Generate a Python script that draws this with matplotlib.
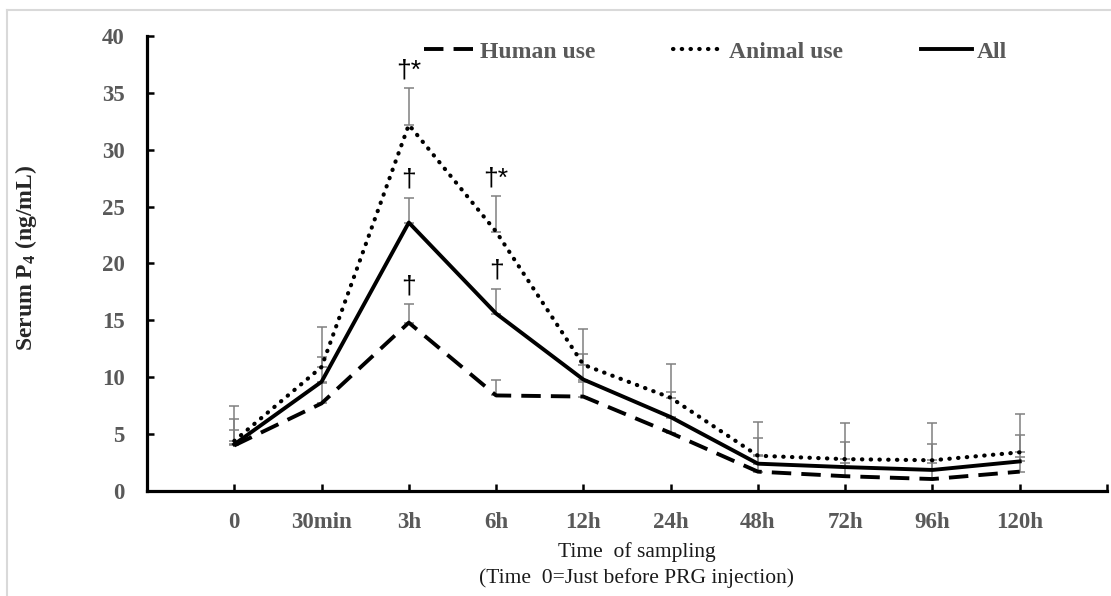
import matplotlib.pyplot as plt
import numpy as np
from matplotlib.lines import Line2D

plt.rcParams['font.family'] = ['Liberation Serif', 'DejaVu Serif']
plt.rcParams['mathtext.default'] = 'regular'

# data (mean and upper SE)
labels = ['0', '30min', '3h', '6h', '12h', '24h', '48h', '72h', '96h', '120h']
human = [4.0, 7.7, 14.8, 8.4, 8.3, 5.1, 1.7, 1.3, 1.05, 1.7]
animal = [4.4, 10.9, 32.2, 22.8, 11.1, 8.2, 3.1, 2.8, 2.7, 3.4]
all_ = [4.1, 9.6, 23.6, 15.6, 9.8, 6.5, 2.4, 2.1, 1.85, 2.6]
human_se = [1.4, 1.8, 1.6, 1.4, 1.3, 1.3, 1.5, 1.2, 1.45, 1.3]
animal_se = [3.1, 3.5, 3.2, 3.1, 3.1, 3.0, 3.0, 3.2, 3.3, 3.4]
all_se = [2.2, 2.2, 2.2, 2.2, 2.2, 2.2, 2.3, 2.2, 2.25, 2.3]

# significance marks: (time index, series, mark)
marks = [(2, 'animal', '†*'), (2, 'all', '†'), (2, 'human', '†'),
         (3, 'animal', '†*'), (3, 'all', '†')]

grey = '#595959'
x = np.arange(len(labels))

fig = plt.figure(figsize=(11.11, 5.96), dpi=100)
ax = fig.add_axes([0.1323, 0.1762, 0.8641, 0.7634])

series = {'human': (human, human_se), 'animal': (animal, animal_se), 'all': (all_, all_se)}
for mean, se in series.values():
    ax.errorbar(x, mean, yerr=[np.zeros(len(se)), se], fmt='none', ecolor='#808080',
                elinewidth=1.1, capsize=3.5, capthick=1.1, zorder=1)

ax.plot(x, human, color='black', lw=2.8, linestyle=(0, (5, 2.6)), label='Human use', zorder=3)
ax.plot(x, animal, color='black', lw=3.0, linestyle=(0, (0.1, 2.0)), dash_capstyle='round',
        label='Animal use', zorder=3)
ax.plot(x, all_, color='black', lw=2.8, label='All', zorder=3)

for i, key, m in marks:
    mean, se = series[key]
    ax.text(x[i], mean[i] + se[i] + 0.5, m, ha='center', va='bottom', fontsize=19,
            family='Liberation Sans', color='black')

ax.set_xlim(-1, 10)
ax.set_ylim(0, 40)
ax.set_xticks(np.arange(11))
ax.set_xticklabels(labels + [''])
ax.set_yticks(np.arange(0, 41, 5))
for s in ['top', 'right']:
    ax.spines[s].set_visible(False)
for s in ['left', 'bottom']:
    ax.spines[s].set_linewidth(2.3)
ax.tick_params(axis='both', direction='in', length=5, width=1.8, color='black', labelcolor=grey)
ax.tick_params(axis='x', pad=15)
ax.tick_params(axis='y', pad=16)
for lab in ax.get_xticklabels() + ax.get_yticklabels():
    lab.set_fontweight('bold')
    lab.set_fontsize(16.5)

ax.set_ylabel('Serum P$_4$ (ng/mL)', fontsize=17, fontweight='bold', color='#262626')
ax.yaxis.set_label_coords(-0.113, 0.512)
ax.set_xlabel('Time  of sampling\n(Time  0=Just before PRG injection)', fontsize=15.5,
              color='#1a1a1a', linespacing=1.45)
ax.xaxis.set_label_coords(0.51, -0.112)

leg = ax.legend(loc='center', bbox_to_anchor=(0.592, 0.965), ncol=3, frameon=False,
                handlelength=2.16, handletextpad=0.2, columnspacing=3.3,
                prop={'weight': 'bold', 'size': 17})
for t in leg.get_texts():
    t.set_color(grey)

# light frame around the picture
fig.add_artist(Line2D([7 / 1111, 7 / 1111], [0, 1 - 10 / 596], color='#d9d9d9', lw=1.5))
fig.add_artist(Line2D([7 / 1111, 1], [1 - 10 / 596, 1 - 10 / 596], color='#d9d9d9', lw=1.5))

fig.savefig('out.png', dpi=100)
